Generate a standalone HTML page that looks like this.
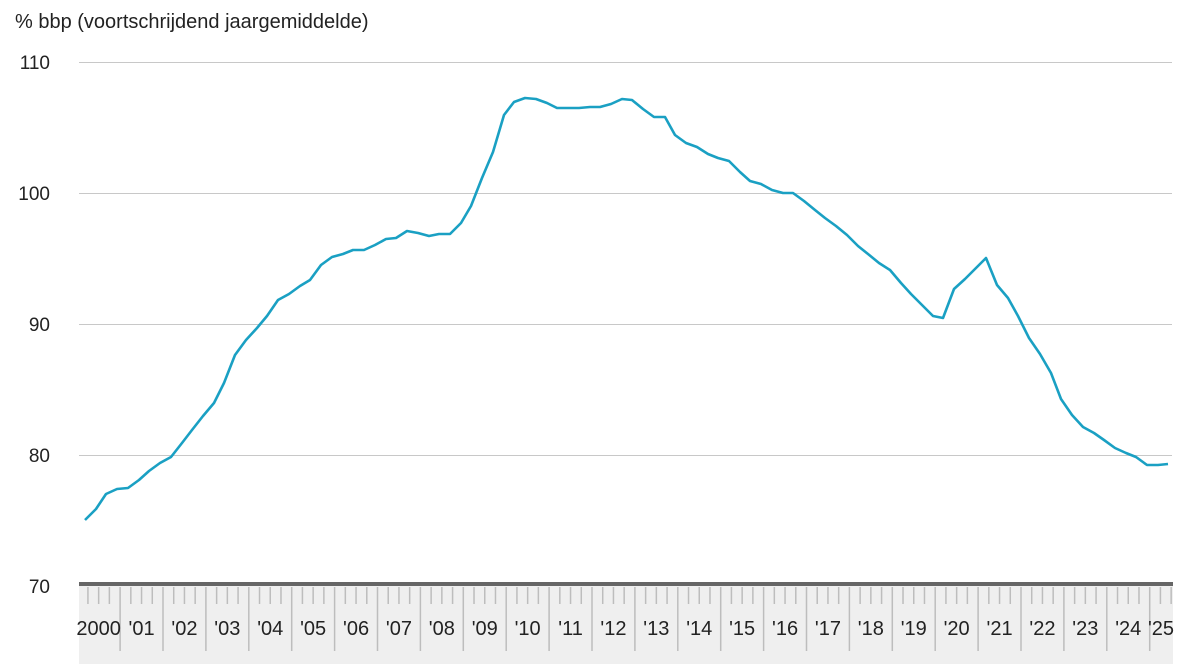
<!DOCTYPE html>
<html><head><meta charset="utf-8"><style>
html,body{margin:0;padding:0;background:#fff;}
svg{display:block;font-family:"Liberation Sans",Arial,sans-serif;}
</style></head><body>
<svg width="1180" height="664" viewBox="0 0 1180 664" xmlns="http://www.w3.org/2000/svg">
<text x="15" y="28" font-size="20" fill="#222">% bbp (voortschrijdend jaargemiddelde)</text>
<g stroke="#c8c8c8" stroke-width="1">
<line x1="79" y1="62.5" x2="1172" y2="62.5"/>
<line x1="79" y1="193.5" x2="1172" y2="193.5"/>
<line x1="79" y1="324.5" x2="1172" y2="324.5"/>
<line x1="79" y1="455.5" x2="1172" y2="455.5"/>
</g>
<g font-size="19" fill="#222" text-anchor="end">
<text x="50" y="69">110</text>
<text x="50" y="200">100</text>
<text x="50" y="331">90</text>
<text x="50" y="462">80</text>
<text x="50" y="593">70</text>
</g>
<rect x="79" y="586" width="1094" height="78" fill="#efefef"/>
<rect x="79" y="582" width="1094" height="4" fill="#666"/>
<g id="ticks" stroke="#bdbdbd" stroke-width="1.5"></g>
<g id="labels" font-size="20" fill="#222" text-anchor="middle"></g>
<polyline fill="none" stroke="#1aa0c3" stroke-width="2.6" stroke-linejoin="round" points="85,520 96,509 106,494 117,489 128,488 139,480 149,471 160,463 171,457 182,443 192,430 203,416 214,403 224,383 235,355 246,340 257,328 267,316 278,300 289,294 300,286 310,280 321,265 332,257 343,254 353,250 364,250 375,245 386,239 396,238 407,231 418,233 429,236 439,234 450,234 461,223 471,206 482,178 493,152 504,115 514,102 525,98 536,99 547,103 557,108 568,108 579,108 590,107 600,107 611,104 622,99 632,100 643,109 654,117 665,117 675,135 686,143 697,147 708,154 718,158 729,161 740,172 750,181 761,184 772,190 783,193 793,193 804,201 815,210 825,218 836,226 847,235 858,246 868,254 879,263 890,270 901,283 911,294 922,305 933,316 943,318 954,289 965,279 976,268 986,258 997,285 1008,298 1018,316 1029,338 1040,354 1051,373 1061,399 1072,415 1083,427 1094,433 1104,440 1115,448 1126,453 1136,457 1147,465 1158,465 1168,464"/>
<script>
(function(){
var ns="http://www.w3.org/2000/svg",t=document.getElementById("ticks"),l=document.getElementById("labels");
var x0=77.2,w=42.9;
for(var y=0;y<=25;y++){
 for(var q=0;q<4;q++){
  var x=x0+y*w+q*w/4; if(x<79||x>1172)continue;
  var e=document.createElementNS(ns,"line");
  e.setAttribute("x1",x);e.setAttribute("x2",x);
  e.setAttribute("y1",587);e.setAttribute("y2",q==0?651:604);
  t.appendChild(e);
 }
 var tx=document.createElementNS(ns,"text");
 var cx=x0+y*w+w/2; if(y==25)cx=1161;
 tx.setAttribute("x",cx);tx.setAttribute("y",635);
 tx.textContent=y==0?"2000":"'"+(y<10?"0":"")+y;
 l.appendChild(tx);
}
})();
</script>
</svg>
</body></html>
